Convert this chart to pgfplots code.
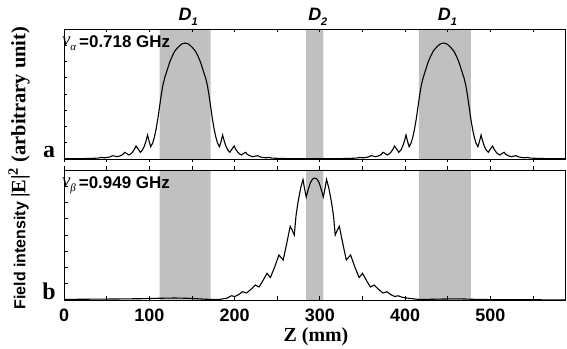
\documentclass[border=0pt]{standalone}
\usepackage{pgfplots}
\pgfplotsset{compat=1.18}
\usepackage{pgfplotstable}
\usepackage{fontspec}
\setmainfont{Liberation Sans}
\newfontfamily\seriff{Liberation Serif}
\definecolor{band}{RGB}{192,192,192}

\pgfplotstableread{
x y
0 0.2
12 0.3
22 0.4
32 0.6
40 0.9
44 1.6
47 1.2
50 1.4
54 2.1
57 3.3
60 2.8
62.5 2.3
66 3.2
69 4.5
71 6.7
73.5 5.5
76 4
78 5
80 6.5
82.5 9.5
84.5 13
87 10
89.5 6.7
92 9
94 12.5
96 17.5
98 24
100 17
101.7 12.3
104 16
106 22
108 30
110 40
112 52
114 64
116 74
118 81
121 89
124 97
127 103
130 108
134 112
138 115
142 116
146 115
150 112
154 108
157 103
160 97
163 89
166 81
168 74
170 64
172 52
174 40
176 30
178 22
180 16
182.3 12.3
184 17
186 24
188 17.5
190 12.5
192 9
194.5 6.7
197 10
199.5 13
201.5 9.5
204 6.5
206 5
208 4
210.5 5.5
213 6.7
215 4.5
218 3.2
221.5 2.3
224 2.8
227 3.3
230 2.1
234 1.4
237 1.2
240 1.6
244 0.9
252 0.6
262 0.4
272 0.3
284 0.2
294 0.2
303 0.2
315 0.3
325 0.4
335 0.6
343 0.9
347 1.6
350 1.2
353 1.4
357 2.1
360 3.3
363 2.8
365.5 2.3
369 3.2
372 4.5
374 6.7
376.5 5.5
379 4
381 5
383 6.5
385.5 9.5
387.5 13
390 10
392.5 6.7
395 9
397 12.5
399 17.5
401 24
403 17
404.7 12.3
407 16
409 22
411 30
413 40
415 52
417 64
419 74
421 81
424 89
427 97
430 103
433 108
437 112
441 115
445 116
449 115
453 112
457 108
460 103
463 97
466 89
469 81
471 74
473 64
475 52
477 40
479 30
481 22
483 16
485.3 12.3
487 17
489 24
491 17.5
493 12.5
495 9
497.5 6.7
500 10
502.5 13
504.5 9.5
507 6.5
509 5
511 4
513.5 5.5
516 6.7
518 4.5
521 3.2
524.5 2.3
527 2.8
530 3.3
533 2.1
537 1.4
540 1.2
543 1.6
547 0.9
555 0.6
565 0.4
575 0.3
588 0.2
}\toptab

\pgfplotstableread{
x y
0 0.6
30 0.8
60 1.0
90 1.3
110 1.7
130 2.0
150 1.6
165 0.8
178 0.4
184 0.8
191 1.8
196.2 4.2
198.2 3.9
200.2 3.5
205 5.5
209.5 8.3
211.7 7.6
214 7
219 10.5
224.3 15
226.5 14
228.7 13
233 19
238 26.7
240 24.5
242 22.5
247 33
252 45
254.5 42.5
257 40
261 56
265.2 73.7
267.5 70
270 65
272 84
274.2 97
277.5 112
280.2 120.5
282 111.5
284 103
286.5 111
289 117.5
291.5 121
294 122
296.5 121
299 117.5
301.5 111
304 103
306 111.5
307.8 120.5
310.5 112
313.8 97
316 84
318 65
320.5 70
322.8 73.7
327 56
331 40
333.5 42.5
336 45
341 33
346 22.5
348 24.5
350 26.7
355 19
359.3 13
361.5 14
363.7 15
369 10.5
374 7
376.3 7.6
378.5 8.3
383 5.5
387.8 3.5
389.8 3.9
391.8 4.2
397 2.6
404 1.7
415 0.7
425 0.6
445 1.0
462 1.2
480 0.7
500 0.4
530 0.3
560 0.2
588 0.2
}\bottab

\pgfplotsset{
  panel/.style={
    scale only axis, width=501.5bp, height=130bp,
    anchor=south west,
    xmin=0, xmax=588, ymin=0, ymax=130,
    clip=false, axis on top=true,
    axis line style={line width=0.9bp},
    every tick/.style={line width=0.8bp, black},
    major tick length=3.5bp,
    xtick={0,50,...,550},
    ytick={16.25,32.5,...,120},
    ytick pos=left, ytick align=inside,
    yticklabels={},
    /pgf/number format/assume math mode=true,
    xticklabel style={font=\fontsize{18}{18}\selectfont\bfseries, yshift=-5.5bp},
  },
  overlay/.style={
    panel, hide y axis, xticklabels={},
  }
}

\begin{document}
\begin{tikzpicture}
% ---------- top panel ----------
\begin{axis}[panel, at={(64bp,190bp)}, xtick pos=right, xtick align=inside, xticklabels={}]
\addplot[fill=band, draw=none] coordinates {(112,0) (112,130) (172,130) (172,0)} \closedcycle;
\addplot[fill=band, draw=none] coordinates {(284,0) (284,130) (304,130) (304,0)} \closedcycle;
\addplot[fill=band, draw=none] coordinates {(416,0) (416,130) (477,130) (477,0)} \closedcycle;
\addplot[black, line width=1.1bp, line join=miter] table[x=x,y=y] {\toptab};
\node[anchor=base west, inner sep=0pt] at (axis cs:-2.5,111.3)
  {\raisebox{2.5bp}{\seriff\itshape\fontsize{19}{19}\selectfont ν}\raisebox{-3bp}{\seriff\itshape\fontsize{11}{11}\selectfont α}\hspace{3bp}{\fontsize{17}{17}\selectfont\bfseries =0.718 GHz}};
\node[anchor=base, inner sep=0pt] at (axis cs:142,138.3) {\fontsize{18}{18}\selectfont\bfseries\itshape D\rlap{\raisebox{-5bp}{\fontsize{11}{11}\selectfont 1}}};
\node[anchor=base, inner sep=0pt] at (axis cs:294,138.3) {\fontsize{18}{18}\selectfont\bfseries\itshape D\rlap{\raisebox{-5bp}{\fontsize{11}{11}\selectfont 2}}};
\node[anchor=base, inner sep=0pt] at (axis cs:446,138.3) {\fontsize{18}{18}\selectfont\bfseries\itshape D\rlap{\raisebox{-5bp}{\fontsize{11}{11}\selectfont 1}}};
\end{axis}
\begin{axis}[overlay, at={(64bp,190bp)}, xtick pos=left, xtick align=outside]
\end{axis}
% ---------- bottom panel ----------
\begin{axis}[panel, at={(64bp,49bp)}, xtick pos=left, xtick align=inside,
  xticklabels={0,,100,,200,,300,,400,,500,}]
\addplot[fill=band, draw=none] coordinates {(112,0) (112,130) (172,130) (172,0)} \closedcycle;
\addplot[fill=band, draw=none] coordinates {(284,0) (284,130) (304,130) (304,0)} \closedcycle;
\addplot[fill=band, draw=none] coordinates {(416,0) (416,130) (477,130) (477,0)} \closedcycle;
\addplot[black, line width=1.1bp, line join=miter] table[x=x,y=y] {\bottab};
\node[anchor=base west, inner sep=0pt] at (axis cs:-2.5,111.3)
  {\raisebox{2.5bp}{\seriff\itshape\fontsize{19}{19}\selectfont ν}\raisebox{-3bp}{\seriff\itshape\fontsize{11}{11}\selectfont β}\hspace{3bp}{\fontsize{17}{17}\selectfont\bfseries =0.949 GHz}};
\end{axis}
\begin{axis}[overlay, at={(64bp,49bp)}, xtick pos=right, xtick align=outside]
\end{axis}
% ---------- labels ----------
\node[anchor=base, inner sep=0pt] at (49bp,191bp) {\seriff\bfseries\fontsize{24}{24}\selectfont a};
\node[anchor=base, inner sep=0pt] at (49bp,49bp) {\seriff\bfseries\fontsize{24}{24}\selectfont b};
\node[anchor=base, inner sep=0pt] at (316bp,7.3bp) {\seriff\bfseries\fontsize{20}{20}\selectfont Z (mm)};
\node[rotate=90, inner sep=0pt] at (19bp,181bp) {{\fontsize{16}{16}\selectfont\bfseries Field intensity }{\seriff\bfseries\fontsize{20.5}{20.5}\selectfont |E|\textsuperscript{2} (arbitrary unit)}};
\pgfresetboundingbox
\useasboundingbox (0,0) rectangle (567bp,349bp);
\end{tikzpicture}
\end{document}
